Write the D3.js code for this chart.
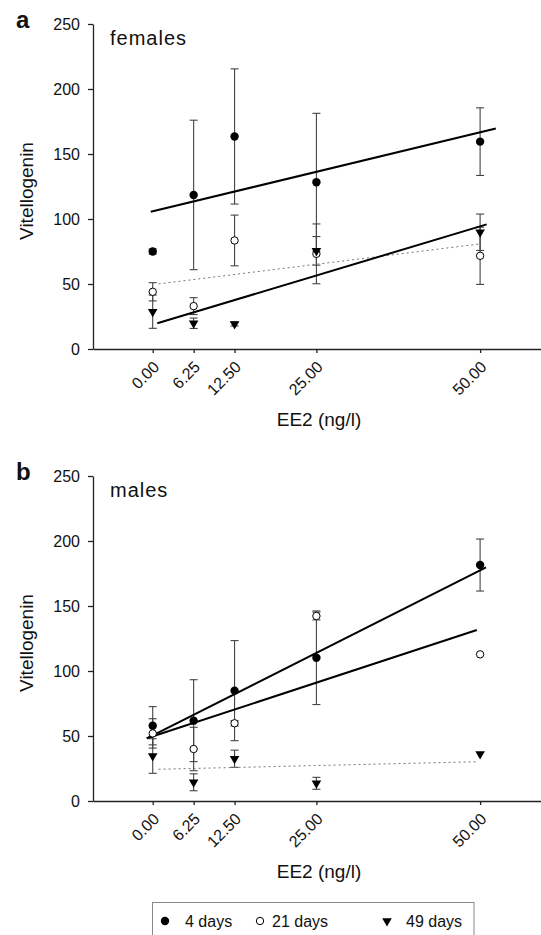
<!DOCTYPE html>
<html>
<head>
<meta charset="utf-8">
<script src="https://cdn.jsdelivr.net/npm/d3@7"></script>
<style>
  body { margin: 0; background: #fff; }
  svg text { font-family: "Liberation Sans", Arial, sans-serif; fill: #111; }
</style>
</head>
<body>
<div id="chart"></div>
<script>
var width = 541, height = 935

// EE2 doses and tick labels
var doses = [0, 6.25, 12.5, 25, 50]
var doseLabels = ['0.00', '6.25', '12.50', '25.00', '50.00']
var seriesNames = ['4 days', '21 days', '49 days']
var yTicks = [0, 50, 100, 150, 200, 250]

// females: means and error (+/-)
var femalesMean4 = [75, 118.5, 163.5, 128.3, 159.5]
var femalesErr4 = [2, 57.5, 52, 53, 26]
var femalesMean21 = [44, 33, 83.5, 73.2, 71.7]
var femalesErr21 = [7, 6.5, 19.5, 23, 22]
var femalesMean49 = [28.7, 19.8, 19.2, 75.5, 89.8]
var femalesErr49 = [12.8, 4, 1.5, 11, 14]

// males
var malesMean4 = [57.9, 61.8, 84.9, 110.2, 181.5]
var malesErr4 = [14.7, 31.5, 38.5, 36, 20]
var malesMean21 = [52, 40, 59.8, 142.3, 112.8]
var malesErr21 = [11.3, 16.7, 2, 3, 0]
var malesMean49 = [34.6, 14.4, 32.5, 13.6, 36.2]
var malesErr49 = [13.3, 6.5, 6.6, 4.6, 0]

// regression lines (4, 21, 49 days): intercept, slope, x from, x to
var femalesFitIntercept = [105.9, 49.5, 18.7]
var femalesFitSlope = [1.216, 0.627, 1.513]
var femalesFitFrom = [-0.3, 0.9, 0.7]
var femalesFitTo = [52.4, 50, 51]

var malesFitIntercept = [50.5, 49.7, 24.3]
var malesFitSlope = [2.54, 1.653, 0.119]
var malesFitFrom = [-0.9, -0.9, 0.9]
var malesFitTo = [50.9, 49.5, 49.5]

var panels = [
  {letter: 'a', title: 'females', top: 24, bottom: 349,
   means: [femalesMean4, femalesMean21, femalesMean49], errs: [femalesErr4, femalesErr21, femalesErr49],
   fit: [femalesFitIntercept, femalesFitSlope, femalesFitFrom, femalesFitTo], dotted: 1},
  {letter: 'b', title: 'males', top: 476, bottom: 801,
   means: [malesMean4, malesMean21, malesMean49], errs: [malesErr4, malesErr21, malesErr49],
   fit: [malesFitIntercept, malesFitSlope, malesFitFrom, malesFitTo], dotted: 2}
]

var svg = d3.select('#chart').append('svg').attr('width', width).attr('height', height)

var x = d3.scaleLinear().domain([-9.12, 59.3]).range([93, 541])

var markers = [
  function(g) { g.append('circle').attr('r', 4.2).attr('fill', '#000') },
  function(g) { g.append('circle').attr('r', 3.7).attr('fill', '#fff').attr('stroke', '#000').attr('stroke-width', 1) },
  function(g) { g.append('path').attr('d', d3.symbol(d3.symbolTriangle, 40)()).attr('transform', 'rotate(180)').attr('fill', '#000') }
]

panels.forEach(function(p) {
  var y = d3.scaleLinear().domain([0, 250]).range([p.bottom, p.top])
  var g = svg.append('g')

  var yAx = g.append('g').attr('transform', 'translate(' + x.range()[0] + ',0)')
    .call(d3.axisLeft(y).tickValues(yTicks).tickSize(5).tickSizeOuter(0).tickPadding(8))
  yAx.selectAll('text').style('font-size', '16px').style('font-family', '"Liberation Sans", Arial, sans-serif')

  var xAx = g.append('g').attr('transform', 'translate(0,' + p.bottom + ')')
    .call(d3.axisBottom(x).tickValues(doses).tickSize(4).tickSizeOuter(0).tickFormat(function(d, i) { return doseLabels[i] }))
  xAx.selectAll('text')
    .style('font-size', '16px').style('font-family', '"Liberation Sans", Arial, sans-serif')
    .attr('text-anchor', 'end').attr('y', 0).attr('dy', '0.35em')
    .attr('transform', 'translate(3,15) rotate(-45)')

  g.selectAll('.domain, .tick line').attr('stroke', '#222').attr('stroke-width', 1.3)

  // error bars
  p.means.forEach(function(m, s) {
    var err = p.errs[s]
    doses.forEach(function(d, i) {
      if (!err[i]) return
      var cx = x(d), y1 = y(m[i] + err[i]), y0 = y(m[i] - err[i])
      var eb = g.append('g').attr('stroke', '#444').attr('stroke-width', 1.1)
      eb.append('line').attr('x1', cx).attr('x2', cx).attr('y1', y1).attr('y2', y0)
      eb.append('line').attr('x1', cx - 4).attr('x2', cx + 4).attr('y1', y1).attr('y2', y1)
      eb.append('line').attr('x1', cx - 4).attr('x2', cx + 4).attr('y1', y0).attr('y2', y0)
    })
  })

  // regression lines
  var a = p.fit[0], b = p.fit[1], from = p.fit[2], to = p.fit[3]
  a.forEach(function(ic, s) {
    var ln = g.append('line')
      .attr('x1', x(from[s])).attr('y1', y(ic + b[s] * from[s]))
      .attr('x2', x(to[s])).attr('y2', y(ic + b[s] * to[s]))
    if (s === p.dotted) {
      ln.attr('stroke', '#777').attr('stroke-width', 1).attr('stroke-dasharray', '2,3')
    } else {
      ln.attr('stroke', '#000').attr('stroke-width', 2)
    }
  })

  // points
  p.means.forEach(function(m, s) {
    doses.forEach(function(d, i) {
      var mk = g.append('g').attr('transform', 'translate(' + x(d) + ',' + y(m[i]) + ')')
      markers[s](mk)
    })
  })

  svg.append('text').attr('x', 16).attr('y', p.top + 4).text(p.letter)
    .style('font-size', '24px').style('font-weight', 'bold')
  svg.append('text').attr('x', 110).attr('y', p.top + 21).text(p.title)
    .style('font-size', '20px').style('letter-spacing', '1px')
  svg.append('text').attr('transform', 'translate(33,' + (p.top + 167) + ') rotate(-90)')
    .attr('text-anchor', 'middle').text('Vitellogenin').style('font-size', '19px')
  svg.append('text').attr('x', 319).attr('y', p.bottom + 77).attr('text-anchor', 'middle')
    .text('EE2 (ng/l)').style('font-size', '19px')
})

// legend
var legend = svg.append('g')
legend.append('rect').attr('x', 152.5).attr('y', 902.5).attr('width', 321.5).attr('height', 50)
  .attr('fill', 'none').attr('stroke', '#888').attr('stroke-width', 1)
var legX = [165, 260, 387]
seriesNames.forEach(function(name, s) {
  var mk = legend.append('g').attr('transform', 'translate(' + legX[s] + ',921)')
  markers[s](mk)
  legend.append('text').attr('x', legX[s] + (s === 2 ? 19 : s === 1 ? 12 : 20)).attr('y', 927)
    .text(name).style('font-size', '16px')
})
</script>
</body>
</html>
